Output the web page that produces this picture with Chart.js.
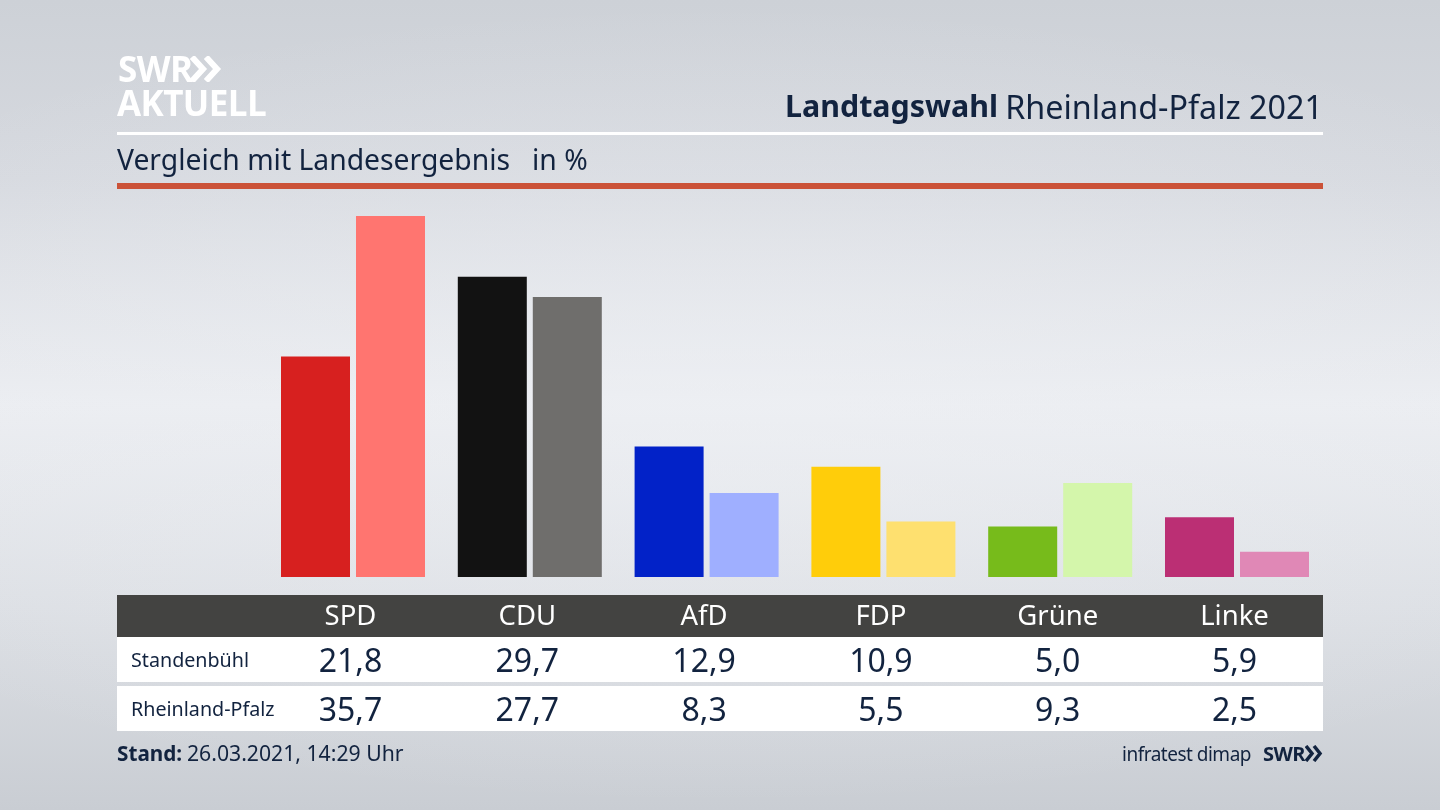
<!DOCTYPE html>
<html lang="de"><head><meta charset="utf-8">
<script src="https://cdn.jsdelivr.net/npm/chart.js@4"></script>
<style>
html,body{margin:0;padding:0;width:1440px;height:810px;overflow:hidden}
body{position:relative;font-family:"Noto Sans",sans-serif;color:#12233f;
background:radial-gradient(ellipse 1100px 400px at 50% 50%,rgba(238,240,244,.55),rgba(238,240,244,0) 100%),linear-gradient(180deg,#cdd1d7 0%,#d6d9df 22%,#ebedf1 50%,#dcdfe4 75%,#c9cdd3 100%)}
.a{position:absolute;white-space:nowrap}
canvas{position:absolute;left:0;top:0}
.band{position:absolute;left:117px;width:1206px}
.val{position:absolute;transform:translateX(-50%);font-size:32px;line-height:45px;white-space:nowrap}
.rowlab{position:absolute;left:131px;font-size:19.700px;line-height:45px;white-space:nowrap}
</style></head><body>
<div class="band" style="top:132px;height:3px;background:#fff"></div>
<div class="band" style="top:183px;height:6px;background:#cb5238"></div>
<div class="band" style="top:595px;height:42px;background:#434341"></div>
<div class="band" style="top:637px;height:45px;background:#fff"></div>
<div class="band" style="top:686px;height:45px;background:#fff"></div>
<canvas id="c" width="1440" height="810"></canvas>
<div class="a" style="left:118px;top:47px;font:700 35px/44px 'Open Sans',sans-serif;color:#fff;letter-spacing:-.5px">SWR</div>
<svg class="a" style="left:190px;top:56px" width="32" height="26" viewBox="0 0 32 26"><path d="M2 1l11 12L2 25M16 1l11 12L16 25" fill="none" stroke="#fff" stroke-width="6"/></svg>
<div class="a" style="left:117px;top:81px;font:700 35px/44px 'Open Sans',sans-serif;color:#fff;letter-spacing:-.6px">AKTUELL</div>
<div class="a" style="left:785px;top:85px;font-size:30.400px;line-height:42px;font-weight:700">Landtagswahl</div>
<div class="a" style="right:117px;top:85px;font-size:32.300px;line-height:42px">Rheinland-Pfalz 2021</div>
<div class="a" style="left:117px;top:139px;font-size:28.300px;line-height:40px">Vergleich mit Landesergebnis</div>
<div class="a" style="left:532px;top:139px;font-size:28.300px;line-height:40px">in %</div>
<div id="rows"></div>
<div class="a" style="left:117px;top:738px;font-size:20.700px;line-height:30px;font-weight:700">Stand:</div>
<div class="a" style="left:187px;top:738px;font-size:21.200px;line-height:30px">26.03.2021, 14:29 Uhr</div>
<div class="a" style="left:1122px;top:739px;font-size:19px;line-height:30px;letter-spacing:-.5px">infratest dimap</div>
<div class="a" style="left:1263px;top:739px;font:700 20px/30px 'Open Sans',sans-serif;letter-spacing:-.5px">SWR</div>
<svg class="a" style="left:1305px;top:745px" width="18" height="17" viewBox="0 0 18 17"><path d="M1 1l6 7.500L1 16M9 1l6 7.500L9 16" fill="none" stroke="#12233f" stroke-width="3.500"/></svg>
<script>
const categories = ["SPD","CDU","AfD","FDP","Grüne","Linke"];
const localName = "Standenbühl";
const stateName = "Rheinland-Pfalz";
const localValues = [21.8,29.7,12.9,10.9,5.0,5.9];
const stateValues = [35.7,27.7,8.3,5.5,9.3,2.5];
const localColors = ["#d7201f","#121212","#0222c8","#ffcd0a","#77bb1b","#bb2f74"];
const stateColors = ["#ff7570","#6f6e6c","#9fafff","#fee06f","#d4f6ab","#e088b6"];
const labelShift = -2.5;

const chart = new Chart(document.getElementById("c"),{
  type:"bar",
  data:{labels:categories,datasets:[
    {label:localName,data:localValues,backgroundColor:localColors,borderWidth:0,categoryPercentage:150/176.8,barPercentage:0.92},
    {label:stateName,data:stateValues,backgroundColor:stateColors,borderWidth:0,categoryPercentage:150/176.8,barPercentage:0.92}
  ]},
  options:{
    responsive:false,animation:false,
    layout:{padding:{left:264.6,right:114.6,top:212,bottom:0}},
    plugins:{legend:{display:false},title:{display:false},tooltip:{enabled:false}},
    scales:{
      y:{display:false,min:0,max:36.1},
      x:{
        grid:{display:false,drawTicks:false},border:{display:false},
        afterFit(s){s.height=233},
        ticks:{color:"#fff",padding:24,labelOffset:labelShift,maxRotation:0,autoSkip:false,font:{family:"'Noto Sans'",size:27.500}}
      }
    }
  }
});

const fmt=v=>v.toFixed(1).replace(".",",");
const rows=document.getElementById("rows");
[[localName,localValues,637],[stateName,stateValues,686]].forEach(([name,vals,top])=>{
  const l=document.createElement("div");l.className="rowlab";l.style.top=top+"px";l.textContent=name;rows.appendChild(l);
  vals.forEach((v,i)=>{
    const d=document.createElement("div");d.className="val";d.style.top=top+"px";
    d.style.left=(chart.scales.x.getPixelForValue(i)+labelShift)+"px";d.textContent=fmt(v);rows.appendChild(d);
  });
});
</script>
</body></html>
